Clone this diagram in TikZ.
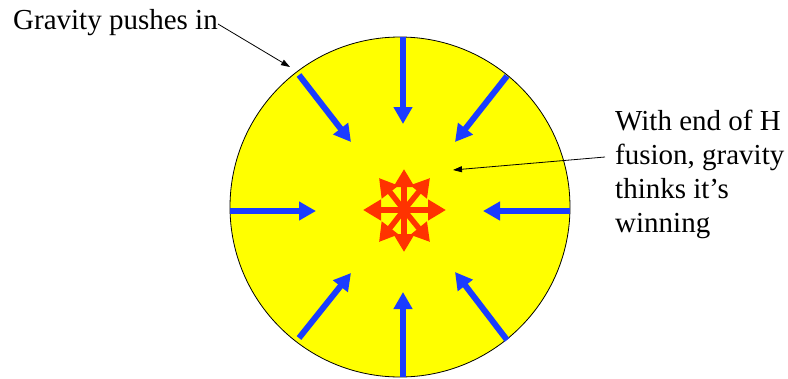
\documentclass[tikz,border=0pt]{standalone}
\usepackage{fontspec}
\setmainfont{Liberation Serif}
\usetikzlibrary{arrows.meta}
\definecolor{starY}{RGB}{255,255,0}
\definecolor{pushB}{RGB}{26,60,255}
\definecolor{pushR}{RGB}{255,51,0}
\begin{document}
\begin{tikzpicture}[x=1pt,y=-1pt,
  bluearrow/.style={draw=pushB, line width=6pt, -{Triangle[length=17pt,width=18pt]}},
  redarrow/.style={draw=pushR, line width=5.5pt, -{Triangle[length=18pt,width=20pt]}},
  pointer/.style={draw=black, line width=0.8pt, -{Triangle[length=9pt,width=6pt]}},
  lbl/.style={font=\fontsize{29}{34}\selectfont, inner sep=0pt, text=black}]
\useasboundingbox (0,0) rectangle (788,378);
\node[circle, draw=black, line width=0.8pt, fill=starY, minimum size=340pt, inner sep=0pt] (sun) at (400,207) {};
% blue gravity arrows
\coordinate (tT) at (403,37);  \coordinate (hT) at (403,124);
\coordinate (tB) at (403,377); \coordinate (hB) at (403,292);
\coordinate (tL) at (230,211); \coordinate (hL) at (316,211);
\coordinate (tR) at (570,211); \coordinate (hR) at (483,211);
\coordinate (tUL) at (299,75);  \coordinate (hUL) at (351,142);
\coordinate (tUR) at (507,76);  \coordinate (hUR) at (455,142);
\coordinate (tLL) at (299,338); \coordinate (hLL) at (351,273);
\coordinate (tLR) at (507,340); \coordinate (hLR) at (455,272);
\foreach \a in {T,B,L,R,UL,UR,LL,LR} \draw[bluearrow] (t\a) -- (h\a);
% red outward arrows
\coordinate (core) at (404,210);
\coordinate (rE) at (446,210); \coordinate (rW) at (363,210);
\coordinate (rN) at (404,169); \coordinate (rS) at (404,252);
\coordinate (rNE) at (430,178); \coordinate (rNW) at (379,178);
\coordinate (rSE) at (430,242); \coordinate (rSW) at (379,242);
\foreach \a in {E,W,N,S,NE,NW,SE,SW} \draw[redarrow] (core) -- (r\a);
% labels
\node[lbl, anchor=base west] (grav) at (13,29) {Gravity pushes in};
\node[lbl, anchor=base west, align=left] (fus) at (615,232) {With end of H\\fusion, gravity\\thinks it’s\\winning};
\coordinate (gravTip) at (290,67);
\coordinate (fusTip) at (453,170);
\coordinate (fusStart) at (605,157);
\draw[pointer] ([yshift=5pt]grav.base east) -- (gravTip);
\draw[pointer] (fusStart) -- (fusTip);
\end{tikzpicture}
\end{document}
